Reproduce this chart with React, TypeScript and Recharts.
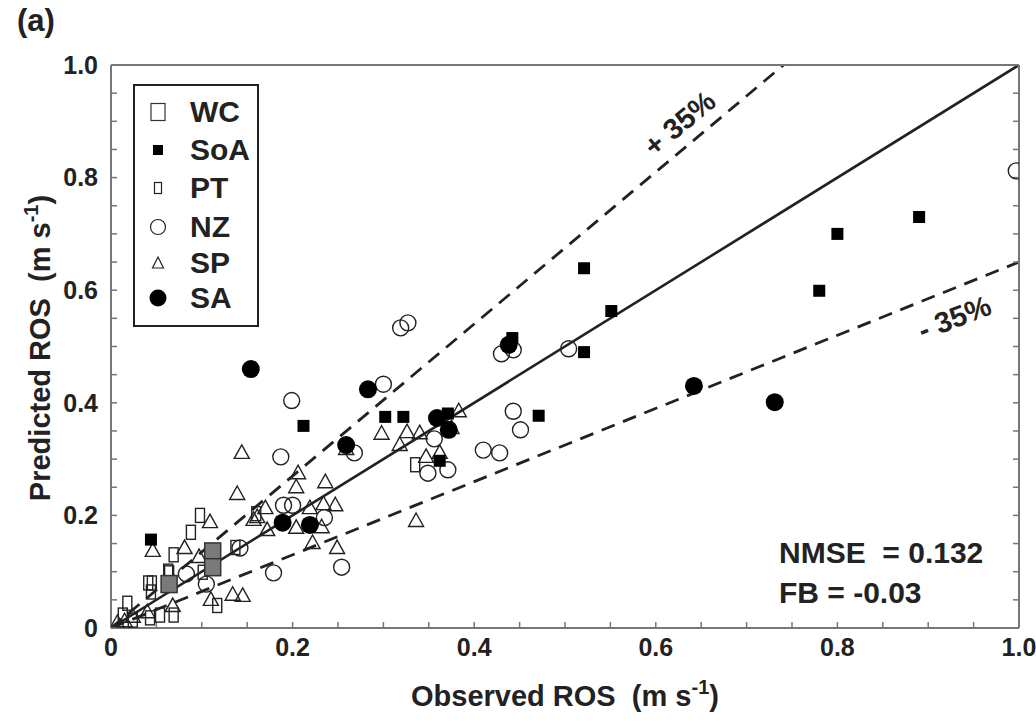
import React from 'react';
import { ScatterChart, Scatter, XAxis, YAxis, ReferenceLine, Legend } from 'recharts';

// ---- axis ticks ----
const tickValues = [0, 0.05, 0.1, 0.15, 0.2, 0.25, 0.3, 0.35, 0.4, 0.45, 0.5, 0.55, 0.6, 0.65, 0.7, 0.75, 0.8, 0.85, 0.9, 0.95, 1.0];
const labeledTicks = [0, 0.2, 0.4, 0.6, 0.8, 1.0];
const tickLabels = ['0', '0.2', '0.4', '0.6', '0.8', '1.0'];

// ---- reference line factors ----
const upperFactor = 1.35;
const lowerFactor = 0.65;

// ---- series data (observed x, predicted y) ----
const wcX = [0.064, 0.112, 0.112];
const wcY = [0.078, 0.136, 0.108];

const soaX = [0.044, 0.212, 0.302, 0.322, 0.371, 0.362, 0.442, 0.471, 0.521, 0.551, 0.521, 0.780, 0.800, 0.890];
const soaY = [0.157, 0.359, 0.375, 0.375, 0.381, 0.297, 0.515, 0.377, 0.639, 0.563, 0.490, 0.599, 0.700, 0.730];

const ptX = [0.098, 0.088, 0.069, 0.064, 0.063, 0.045, 0.041, 0.044, 0.018, 0.013, 0.024, 0.043, 0.054, 0.069, 0.117, 0.137, 0.101, 0.160, 0.335];
const ptY = [0.200, 0.170, 0.130, 0.098, 0.101, 0.080, 0.080, 0.064, 0.044, 0.023, 0.014, 0.018, 0.023, 0.023, 0.040, 0.143, 0.099, 0.203, 0.290];

const nzX = [0.083, 0.105, 0.142, 0.179, 0.187, 0.199, 0.190, 0.200, 0.235, 0.254, 0.268, 0.300, 0.319, 0.327, 0.356, 0.349, 0.371, 0.410, 0.428, 0.443, 0.451, 0.430, 0.443, 0.504, 0.997];
const nzY = [0.096, 0.078, 0.142, 0.098, 0.304, 0.404, 0.218, 0.218, 0.196, 0.108, 0.311, 0.433, 0.533, 0.542, 0.336, 0.275, 0.281, 0.316, 0.311, 0.385, 0.352, 0.487, 0.494, 0.496, 0.812];

const spX = [0.007, 0.015, 0.024, 0.040, 0.068, 0.046, 0.081, 0.097, 0.109, 0.110, 0.134, 0.145, 0.139, 0.144, 0.157, 0.161, 0.170, 0.172, 0.204, 0.204, 0.206, 0.219, 0.234, 0.247, 0.236, 0.232, 0.222, 0.249, 0.259, 0.298, 0.326, 0.340, 0.318, 0.347, 0.362, 0.383, 0.375, 0.336];
const spY = [0.009, 0.012, 0.020, 0.028, 0.039, 0.137, 0.142, 0.126, 0.188, 0.050, 0.059, 0.057, 0.238, 0.311, 0.192, 0.197, 0.213, 0.174, 0.178, 0.250, 0.275, 0.213, 0.220, 0.218, 0.259, 0.179, 0.151, 0.142, 0.318, 0.345, 0.348, 0.346, 0.325, 0.304, 0.311, 0.385, 0.355, 0.190];

const saX = [0.154, 0.189, 0.219, 0.259, 0.283, 0.359, 0.372, 0.438, 0.642, 0.731];
const saY = [0.460, 0.187, 0.183, 0.325, 0.424, 0.373, 0.352, 0.503, 0.430, 0.401];

const toPoints = (xs: number[], ys: number[]) => xs.map((x, i) => ({ x, y: ys[i] }));

const FONT = '"Liberation Sans", Arial, Helvetica, sans-serif';
const INK = '#222';

const fmt = (v: number) => {
  const i = labeledTicks.findIndex((t) => Math.abs(t - v) < 1e-9);
  return i >= 0 ? tickLabels[i] : '';
};

// ---- marker shapes ----
const shapeWC = (p: any) => (
  <rect x={p.cx - 8} y={p.cy - 8.5} width={16} height={17} fill="#7a7a7a" stroke="#333" strokeWidth={1.5} />
);
const shapeSoA = (p: any) => (
  <rect x={p.cx - 6} y={p.cy - 6} width={12} height={12} fill="#000" />
);
const shapePT = (p: any) => (
  <rect x={p.cx - 4.5} y={p.cy - 7} width={9} height={14} fill="none" stroke="#222" strokeWidth={1.4} />
);
const shapeNZ = (p: any) => (
  <circle cx={p.cx} cy={p.cy} r={8} fill="none" stroke="#222" strokeWidth={1.4} />
);
const shapeSP = (p: any) => (
  <path d={`M${p.cx},${p.cy - 8} L${p.cx + 7.5},${p.cy + 5.5} L${p.cx - 7.5},${p.cy + 5.5} Z`} fill="none" stroke="#222" strokeWidth={1.4} />
);
const shapeSA = (p: any) => <circle cx={p.cx} cy={p.cy} r={9} fill="#000" />;

const legendItems = [
  { name: 'WC', icon: <rect x={8} y={6.5} width={14} height={17} fill="#fff" stroke="#333" strokeWidth={1.2} /> },
  { name: 'SoA', icon: <rect x={10} y={10} width={10} height={10} fill="#000" /> },
  { name: 'PT', icon: <rect x={11.5} y={9.5} width={7} height={11} fill="none" stroke="#222" strokeWidth={1.2} /> },
  { name: 'NZ', icon: <circle cx={15} cy={15} r={7.5} fill="none" stroke="#222" strokeWidth={1.2} /> },
  { name: 'SP', icon: <path d="M15,9 L20.5,20 L9.5,20 Z" fill="none" stroke="#222" strokeWidth={1.2} /> },
  { name: 'SA', icon: <circle cx={15} cy={15} r={8.5} fill="#000" /> },
];
const legendRowCenters = [28, 66, 104, 143, 179, 214];

const renderLegend = () => (
  <div
    style={{
      position: 'relative',
      width: 126,
      height: 243,
      border: '2.5px solid #222',
      boxSizing: 'border-box',
      background: '#fff',
      fontFamily: FONT,
    }}
  >
    {legendItems.map((it, i) => (
      <div
        key={it.name}
        style={{ position: 'absolute', left: 0, top: legendRowCenters[i] - 18 - 2, height: 36, width: 124 }}
      >
        <svg width={30} height={30} style={{ position: 'absolute', left: 8, top: 3 }}>
          {it.icon}
        </svg>
        <span style={{ position: 'absolute', left: 55, top: 0, fontSize: 30, fontWeight: 'bold', color: INK, lineHeight: '36px' }}>{it.name}</span>
      </div>
    ))}
  </div>
);

const tickStyle = { fill: INK, fontSize: 25, fontWeight: 'bold', fontFamily: FONT };
const axisLineStyle = { stroke: '#777', strokeWidth: 2 };
const tickLineStyle = { stroke: '#777', strokeWidth: 1.5 };

export default function App() {
  return (
    <div style={{ position: 'absolute', left: 0, top: 0, width: 1036, height: 721, background: '#fff' }}>
      <ScatterChart width={1036} height={721} margin={{ top: 64, right: 16, bottom: 92, left: 110 }}>
        <XAxis
          xAxisId="b"
          type="number"
          dataKey="x"
          domain={[0, 1]}
          ticks={tickValues}
          interval={0}
          tickFormatter={fmt}
          tickSize={-6}
          tickMargin={16}
          height={1}
          allowDataOverflow
          axisLine={axisLineStyle}
          tickLine={tickLineStyle}
          tick={tickStyle}
        />
        <XAxis
          xAxisId="t"
          orientation="top"
          type="number"
          domain={[0, 1]}
          ticks={tickValues}
          interval={0}
          tickFormatter={() => ''}
          tickSize={-6}
          height={1}
          allowDataOverflow
          axisLine={axisLineStyle}
          tickLine={tickLineStyle}
        />
        <YAxis
          yAxisId="l"
          type="number"
          dataKey="y"
          domain={[0, 1]}
          ticks={tickValues}
          interval={0}
          tickFormatter={fmt}
          tickSize={-6}
          tickMargin={19}
          width={1}
          allowDataOverflow
          axisLine={axisLineStyle}
          tickLine={tickLineStyle}
          tick={tickStyle}
        />
        <YAxis
          yAxisId="r"
          orientation="right"
          type="number"
          domain={[0, 1]}
          ticks={tickValues}
          interval={0}
          tickFormatter={() => ''}
          tickSize={-6}
          width={1}
          allowDataOverflow
          axisLine={axisLineStyle}
          tickLine={tickLineStyle}
        />
        <Legend
          layout="vertical"
          align="center"
          verticalAlign="middle"
          wrapperStyle={{ position: 'absolute', left: 133, top: 84, width: 126, height: 243 }}
          content={renderLegend}
        />
        <Scatter name="NZ" xAxisId="b" yAxisId="l" data={toPoints(nzX, nzY)} shape={shapeNZ} isAnimationActive={false} />
        <Scatter name="SP" xAxisId="b" yAxisId="l" data={toPoints(spX, spY)} shape={shapeSP} isAnimationActive={false} />
        <Scatter name="PT" xAxisId="b" yAxisId="l" data={toPoints(ptX, ptY)} shape={shapePT} isAnimationActive={false} />
        <Scatter name="WC" xAxisId="b" yAxisId="l" data={toPoints(wcX, wcY)} shape={shapeWC} isAnimationActive={false} />
        <Scatter name="SoA" xAxisId="b" yAxisId="l" data={toPoints(soaX, soaY)} shape={shapeSoA} isAnimationActive={false} />
        <Scatter name="SA" xAxisId="b" yAxisId="l" data={toPoints(saX, saY)} shape={shapeSA} isAnimationActive={false} />
        <ReferenceLine xAxisId="b" yAxisId="l" segment={[{ x: 0, y: 0 }, { x: 1, y: 1 }]} stroke={INK} strokeWidth={2.6} ifOverflow="visible" />
        <ReferenceLine xAxisId="b" yAxisId="l" segment={[{ x: 0, y: 0 }, { x: 1 / upperFactor, y: 1 }]} stroke={INK} strokeWidth={2.8} strokeDasharray="14 9" ifOverflow="visible" />
        <ReferenceLine xAxisId="b" yAxisId="l" segment={[{ x: 0, y: 0 }, { x: 1, y: lowerFactor }]} stroke={INK} strokeWidth={2.8} strokeDasharray="14 9" ifOverflow="visible" />
      </ScatterChart>
      <svg width={1036} height={721} style={{ position: 'absolute', left: 0, top: 0, pointerEvents: 'none' }} fontFamily={FONT} fontWeight="bold" fill={INK}>
        <text x={17} y={31} fontSize={31}>(a)</text>
        <text x={565} y={706} fontSize={29} textAnchor="middle">
          Observed ROS{'\u00A0\u00A0'}(m s<tspan dy={-12} fontSize={20}>-1</tspan><tspan dy={12}>)</tspan>
        </text>
        <text x={0} y={0} fontSize={29} textAnchor="middle" transform="translate(50,348) rotate(-90)">
          Predicted ROS{'\u00A0\u00A0'}(m s<tspan dy={-12} fontSize={20}>-1</tspan><tspan dy={12}>)</tspan>
        </text>
        <text x={0} y={0} fontSize={29} textAnchor="middle" transform="translate(686,131) rotate(-40)">+ 35%</text>
        <text x={0} y={0} fontSize={29} textAnchor="middle" transform="translate(958,327) rotate(-21)">- 35%</text>
        <text x={779} y={563} fontSize={30}>NMSE{'\u00A0\u00A0'}={'\u00A0'}0.132</text>
        <text x={779} y={603} fontSize={30}>FB = -0.03</text>
      </svg>
    </div>
  );
}
